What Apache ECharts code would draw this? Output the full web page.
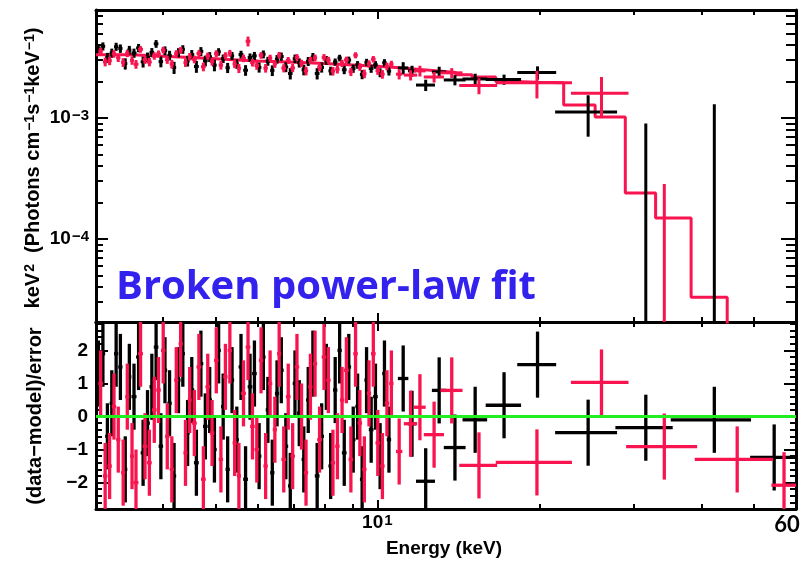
<!DOCTYPE html>
<html><head><meta charset="utf-8">
<script src="https://cdn.jsdelivr.net/npm/echarts@6/dist/echarts.min.js"></script>
<style>html,body{margin:0;padding:0;background:#fff}#c{width:807px;height:563px}</style>
</head><body><div id="c"></div><script>
// ---------------- data (energies in keV, flux in 1e-3 photons cm^-2 s^-1 keV^-1 * keV^2) ----------------
const energyRange = [3, 60];
const fluxRange = [2.06e-5, 7.8e-3];
const residRange = [-2.8, 2.86];
const fluxUnit = 1e-3;

const energyMajorTicks = [10];
const energyMinorTicks = [4, 5, 6, 7, 8, 9, 20, 30, 40, 50];
const energyLabels = [10];
const fluxMajorTicks = [1e-4, 1e-3];
const fluxMinorTicks = [3e-5, 4e-5, 5e-5, 6e-5, 7e-5, 8e-5, 9e-5, 2e-4, 3e-4, 4e-4, 5e-4, 6e-4, 7e-4, 8e-4, 9e-4, 2e-3, 3e-3, 4e-3, 5e-3, 6e-3, 7e-3];
const residMajorTicks = [-2, -1, 0, 1, 2];
const residMinorTicks = [-2.6, -2.4, -2.2, -1.8, -1.6, -1.4, -1.2, -0.8, -0.6, -0.4, -0.2, 0.2, 0.4, 0.6, 0.8, 1.2, 1.4, 1.6, 1.8, 2.2, 2.4, 2.6, 2.8];

// black data group
const blackEnergy = [3.03,3.09,3.15,3.21,3.27,3.33,3.40,3.46,3.53,3.60,3.67,3.74,3.81,3.88,3.96,4.03,4.11,4.19,4.27,4.35,
  4.44,4.52,4.61,4.70,4.79,4.88,4.98,5.07,5.17,5.27,5.37,5.48,5.58,5.69,5.80,5.91,6.03,6.14,6.26,6.38,
  6.51,6.63,6.76,6.89,7.03,7.16,7.30,7.44,7.59,7.73,7.88,8.04,8.19,8.35,8.51,8.68,8.85,9.02,9.19,9.37,
  9.55,9.74,9.92,10.12,10.31,10.51,
  11.17,11.6,12.3,13.03,13.94,15.2,17.2,19.85,24.65,31.55,42.3,54.65];
const blackHalfWidth = [0.03,0.03,0.03,0.03,0.03,0.03,0.03,0.03,0.038,0.038,0.038,0.038,0.038,0.038,0.038,0.038,0.038,0.038,0.038,0.038,
  0.038,0.048,0.048,0.048,0.048,0.048,0.048,0.048,0.048,0.048,0.048,0.048,0.058,0.058,0.058,0.058,0.058,0.058,0.058,0.058,
  0.058,0.068,0.068,0.068,0.068,0.068,0.068,0.068,0.068,0.078,0.078,0.078,0.078,0.078,0.078,0.088,0.088,0.088,0.088,0.088,
  0.088,0.098,0.098,0.098,0.098,0.098,
  0.25,0.2,0.5,0.4,0.65,0.8,1.3,1.65,3.25,3.85,7.2,5.35];
const blackFlux = [3.74,3.91,3.15,3.44,3.88,3.75,2.81,3.64,3.44,3.79,2.91,3.17,3.48,4.10,2.92,3.60,3.29,2.61,3.47,3.69,
  2.96,3.34,2.66,3.55,2.97,3.20,2.73,3.52,3.09,2.60,3.26,2.80,3.34,2.48,3.16,3.26,2.62,3.36,2.95,2.47,
  3.06,3.22,2.64,2.33,3.09,2.86,2.50,2.94,3.19,2.33,2.62,3.00,2.45,2.90,3.13,2.50,3.01,2.56,2.75,2.29,
  2.88,2.56,2.75,2.37,2.86,2.44,
  2.59,2.45,1.87,2.40,2.06,2.10,2.08,2.37,1.12,-0.10,-0.05,-0.80];
const blackFluxErr = [0.3,0.3,0.3,0.3,0.3,0.3,0.3,0.3,0.3,0.3,0.3,0.3,0.3,0.3,0.3,0.3,0.3,0.3,0.3,0.3,
  0.3,0.3,0.3,0.3,0.3,0.3,0.3,0.25,0.25,0.25,0.25,0.25,0.25,0.25,0.25,0.25,0.25,0.25,0.25,0.25,
  0.25,0.25,0.25,0.25,0.25,0.25,0.25,0.25,0.25,0.25,0.25,0.25,0.2,0.2,0.2,0.2,0.2,0.2,0.2,0.2,
  0.2,0.2,0.2,0.2,0.2,0.2,
  0.3,0.25,0.2,0.25,0.2,0.22,0.2,0.3,0.42,1.0,1.35,0.6];
const blackResid = [1.3,1.9,-0.6,0.4,1.9,1.5,-1.6,1.2,0.6,1.8,-1.1,-0.2,0.9,2.1,-0.9,1.4,0.4,-1.8,1.1,1.9,
  -0.5,0.8,-1.4,1.6,-0.3,0.5,-1.0,2.0,0.3,-1.6,1.1,-0.7,1.5,-1.9,0.9,1.3,-1.2,1.8,0.2,-1.7,
  0.7,1.4,-0.9,-2.1,1.0,0.1,-1.3,0.5,1.6,-1.8,-0.6,1.2,-1.5,0.8,2.0,-1.1,1.5,-0.7,0.3,-1.9,
  1.1,-0.4,0.6,-1.2,1.3,-0.7,
  1.15,-0.22,-1.96,0.79,-0.94,-0.1,0.34,1.57,-0.49,-0.34,-0.1,-1.24];

// red data group
const redEnergy = [3.06,3.12,3.18,3.24,3.30,3.37,3.43,3.50,3.56,3.63,3.70,3.77,3.85,3.92,4.00,4.07,4.15,4.23,4.31,4.40,
  4.48,4.57,4.66,4.75,4.84,4.93,5.02,5.12,5.22,5.32,5.43,5.53,5.64,5.75,5.86,5.97,6.08,6.20,6.32,6.45,
  6.57,6.70,6.83,6.96,7.09,7.23,7.37,7.51,7.66,7.81,7.96,8.11,8.27,8.43,8.60,8.76,8.93,9.11,9.28,9.46,
  9.65,9.83,10.02,10.22,10.42,10.62,
  10.98,11.53,12.0,12.75,13.75,15.45,19.8,26.1,34.15,46.65,57.0];
const redHalfWidth = [0.03,0.03,0.03,0.03,0.03,0.03,0.03,0.03,0.038,0.038,0.038,0.038,0.038,0.038,0.038,0.038,0.038,0.038,0.038,0.038,
  0.038,0.048,0.048,0.048,0.048,0.048,0.048,0.048,0.048,0.048,0.048,0.048,0.058,0.058,0.058,0.058,0.058,0.058,0.058,0.058,
  0.058,0.068,0.068,0.068,0.068,0.068,0.068,0.068,0.068,0.078,0.078,0.078,0.078,0.078,0.078,0.088,0.088,0.088,0.088,0.088,
  0.088,0.098,0.098,0.098,0.098,0.098,
  0.15,0.33,0.3,0.55,0.65,1.25,3.2,3.2,5.15,7.75,3.0];
const redFlux = [3.57,2.91,2.97,3.39,3.14,2.88,3.42,2.99,2.78,3.69,3.03,2.90,3.26,3.38,3.64,3.03,2.79,3.40,3.63,2.87,
  3.21,3.05,3.41,2.65,3.25,2.93,3.40,2.73,3.27,3.43,2.80,2.57,3.11,4.30,2.87,2.71,3.29,2.58,3.12,2.80,
  3.30,2.58,2.99,2.59,3.17,2.83,2.45,3.00,3.14,2.63,3.17,3.00,2.44,2.53,2.83,3.02,2.41,3.30,2.64,2.32,
  2.80,3.06,2.46,2.30,2.67,2.78,
  2.30,2.26,2.45,2.18,2.36,1.85,1.95,1.60,-0.015,-0.30,-0.60];
const redFluxErr = [0.24,0.24,0.24,0.24,0.24,0.24,0.24,0.24,0.23,0.23,0.23,0.23,0.23,0.23,0.23,0.23,0.23,0.23,0.23,0.23,
  0.23,0.22,0.22,0.22,0.22,0.22,0.22,0.22,0.22,0.22,0.22,0.22,0.22,0.4,0.21,0.21,0.21,0.21,0.21,0.21,
  0.21,0.2,0.2,0.2,0.2,0.2,0.2,0.2,0.2,0.2,0.2,0.2,0.2,0.2,0.2,0.19,0.19,0.19,0.19,0.19,
  0.19,0.19,0.19,0.19,0.19,0.19,
  0.22,0.22,0.25,0.22,0.22,0.28,0.5,0.58,0.30,0.2,0.3];
const redResid = [1.0,-1.8,-1.5,0.3,-0.7,-1.7,0.6,-1.2,-2.0,1.9,-0.9,-1.4,0.2,0.8,2.0,-0.6,-1.6,1.1,2.2,-1.1,
  0.5,-0.2,1.5,-1.9,0.9,-0.5,1.7,-1.3,1.2,2.0,-0.8,-1.8,0.7,2.1,-0.3,-1.0,1.7,-1.5,1.0,-0.4,
  1.9,-1.3,0.6,-1.2,1.5,0.0,-1.7,0.9,1.6,-0.7,1.8,1.1,-1.4,-0.9,0.5,1.4,-1.3,1.9,-0.2,-1.6,
  0.7,1.9,-0.8,-1.5,0.4,1.0,
  -1.06,-0.22,0.28,-0.55,0.79,-1.48,-1.39,1.03,-0.91,-1.3,-2.08];

// model (step histogram): bin edges and values
const modelEdges = [3, 3.5, 4, 4.5, 5, 5.5, 6, 7, 8, 9, 10, 11, 12, 13, 14, 15, 16.6, 18, 19.8, 22.2, 25.4, 28.9, 32.9, 38.3, 44.7];
const modelValues = [3.33, 3.24, 3.16, 3.08, 3.01, 2.95, 2.88, 2.82, 2.74, 2.67, 2.60, 2.52, 2.44, 2.37, 2.28, 2.18, 2.00, 1.97, 1.95, 1.28, 1.02, 0.24, 0.149, 0.033];

// ---------------- build ----------------
const L = Math.log10;
const BLACK = '#000000', RED = '#f8154f', GREEN = '#22ee22', BLUE = '#3322ee';
const FONT = 'Liberation Sans';

function specData(E, hw, F, Fe) {
  return E.map((e, i) => [e, e - hw[i], e + hw[i], F[i] * fluxUnit, Fe[i] * fluxUnit]);
}
function residData(E, hw, R) {
  return E.map((e, i) => [e, e - hw[i], e + hw[i], R[i], 1]);
}
function crossRenderer(logY, width) {
  return function (params, api) {
    const e = api.value(0), lo = api.value(1), hi = api.value(2), y = api.value(3), err = api.value(4);
    const ty = v => logY ? L(Math.max(v, 1e-9)) : v;
    const style = { stroke: api.visual('color'), lineWidth: width };
    const ch = [];
    if (!logY || y > 0) {
      const a = api.coord([L(lo), ty(y)]), b = api.coord([L(hi), ty(y)]);
      ch.push({ type: 'line', shape: { x1: a[0], y1: a[1], x2: b[0], y2: b[1] }, style });
    }
    if (!logY || y + err > 0) {
      const a = api.coord([L(e), ty(y + err)]), b = api.coord([L(e), ty(y - err)]);
      ch.push({ type: 'line', shape: { x1: a[0], y1: a[1], x2: b[0], y2: b[1] }, style });
    }
    return { type: 'group', children: ch };
  };
}

const modelLine = modelValues.map((v, i) => [L(modelEdges[i]), L(v * fluxUnit)]);
modelLine.push([L(modelEdges[modelEdges.length - 1]), L(fluxRange[0]) - 1]);

const supRich = {
  b: { fontFamily: FONT, fontWeight: 'bold', fontSize: 19, lineHeight: 19, verticalAlign: 'bottom', color: '#000' },
  s: { fontFamily: FONT, fontWeight: 'bold', fontSize: 15, lineHeight: 15, padding: [0, 0, 10, 1], verticalAlign: 'top', color: '#000' }
};

function xAxisDef(grid, pos, ticks, len, line, labels) {
  return {
    type: 'value', gridIndex: grid, position: pos,
    min: L(energyRange[0]), max: L(energyRange[1]),
    axisLine: { show: line, onZero: false, lineStyle: { color: '#000', width: 3 } },
    axisTick: { show: true, inside: true, length: len, customValues: ticks.map(L), lineStyle: { color: '#000', width: 2 } },
    axisLabel: labels ? {
      show: true, customValues: labels.map(L), margin: 4, rich: supRich,
      formatter: v => '{b|10}{s|' + Math.round(v) + '}'
    } : { show: false },
    splitLine: { show: false }
  };
}
function yFluxDef(grid, pos, ticks, len, line, labels) {
  return {
    type: 'value', gridIndex: grid, position: pos,
    min: L(fluxRange[0]), max: L(fluxRange[1]),
    axisLine: { show: line, onZero: false, lineStyle: { color: '#000', width: 3 } },
    axisTick: { show: true, inside: true, length: len, customValues: ticks.map(L), lineStyle: { color: '#000', width: 2 } },
    axisLabel: labels ? {
      show: true, customValues: labels.map(L), margin: 7, rich: supRich,
      formatter: v => { const p = Math.round(v); return '{b|10}{s|' + (p < 0 ? '\u2212' : '') + Math.abs(p) + '}'; }
    } : { show: false },
    splitLine: { show: false }
  };
}
function yResDef(grid, pos, ticks, len, line, labels) {
  return {
    type: 'value', gridIndex: grid, position: pos,
    min: residRange[0], max: residRange[1],
    axisLine: { show: line, onZero: false, lineStyle: { color: '#000', width: 3 } },
    axisTick: { show: true, inside: true, length: len, customValues: ticks, lineStyle: { color: '#000', width: 2 } },
    axisLabel: labels ? {
      show: true, customValues: labels, margin: 8,
      fontFamily: FONT, fontWeight: 'bold', fontSize: 19, color: '#000',
      formatter: v => (v < 0 ? '\u2212' : '') + Math.abs(v)
    } : { show: false },
    splitLine: { show: false }
  };
}

const topRect = { left: 96, right: 11, top: 10, height: 312 };
const botRect = { left: 96, right: 11, top: 322, height: 187 };

const option = {
  animation: false,
  backgroundColor: '#fff',
  grid: [
    Object.assign({}, topRect), Object.assign({}, topRect),
    Object.assign({}, botRect), Object.assign({}, botRect)
  ],
  xAxis: [
    xAxisDef(0, 'bottom', energyMajorTicks, 9, true, null),
    xAxisDef(0, 'top', energyMajorTicks, 9, true, null),
    xAxisDef(1, 'bottom', energyMinorTicks, 5, false, null),
    xAxisDef(1, 'top', energyMinorTicks, 5, false, null),
    xAxisDef(2, 'bottom', energyMajorTicks, 9, true, energyLabels),
    xAxisDef(2, 'top', energyMajorTicks, 9, true, null),
    xAxisDef(3, 'bottom', energyMinorTicks, 5, false, null),
    xAxisDef(3, 'top', energyMinorTicks, 5, false, null)
  ],
  yAxis: [
    yFluxDef(0, 'left', fluxMajorTicks, 12, true, fluxMajorTicks),
    yFluxDef(0, 'right', fluxMajorTicks, 15, true, null),
    yFluxDef(1, 'left', fluxMinorTicks, 7, false, null),
    yFluxDef(1, 'right', fluxMinorTicks, 10, false, null),
    yResDef(2, 'left', residMajorTicks, 12, true, residMajorTicks),
    yResDef(2, 'right', residMajorTicks, 12, true, null),
    yResDef(3, 'left', residMinorTicks, 6, false, null),
    yResDef(3, 'right', residMinorTicks, 6, false, null)
  ],
  series: [
    { type: 'line', name: 'model', xAxisIndex: 0, yAxisIndex: 0, step: 'end', clip: true, z: 1,
      showSymbol: false, symbol: 'none', lineStyle: { color: RED, width: 3 }, data: modelLine },
    { type: 'custom', name: 'black', xAxisIndex: 0, yAxisIndex: 0, clip: true, z: 2,
      itemStyle: { color: BLACK }, encode: { x: 0, y: 3 },
      renderItem: crossRenderer(true, 3), data: specData(blackEnergy, blackHalfWidth, blackFlux, blackFluxErr) },
    { type: 'custom', name: 'red', xAxisIndex: 0, yAxisIndex: 0, clip: true, z: 3,
      itemStyle: { color: RED }, encode: { x: 0, y: 3 },
      renderItem: crossRenderer(true, 3), data: specData(redEnergy, redHalfWidth, redFlux, redFluxErr) },
    { type: 'custom', name: 'black resid', xAxisIndex: 4, yAxisIndex: 4, clip: true, z: 2,
      itemStyle: { color: BLACK }, encode: { x: 0, y: 3 },
      renderItem: crossRenderer(false, 3.3), data: residData(blackEnergy, blackHalfWidth, blackResid) },
    { type: 'custom', name: 'red resid', xAxisIndex: 4, yAxisIndex: 4, clip: true, z: 3,
      itemStyle: { color: RED }, encode: { x: 0, y: 3 },
      renderItem: crossRenderer(false, 3.3), data: residData(redEnergy, redHalfWidth, redResid) },
    { type: 'line', name: 'zero', xAxisIndex: 4, yAxisIndex: 4, data: [], z: 6,
      markLine: { silent: true, symbol: 'none', animation: false, label: { show: false },
        lineStyle: { color: GREEN, width: 3, type: 'solid' }, data: [{ yAxis: 0 }] } }
  ],
  graphic: [
    { type: 'text', x: 33, y: 168, rotation: Math.PI / 2, z: 10,
      style: { text: '{b|keV}{s|2}{b|  (Photons cm}{s|\u22121}{b|s}{s|\u22121}{b|keV}{s|\u22121}{b|)}',
        rich: { b: { fontFamily: FONT, fontWeight: 'bold', fontSize: 20, lineHeight: 20, verticalAlign: 'bottom', fill: '#000' },
                s: { fontFamily: FONT, fontWeight: 'bold', fontSize: 14, lineHeight: 14, padding: [0, 0, 10, 1], verticalAlign: 'top', fill: '#000' } },
        align: 'center', verticalAlign: 'middle' } },
    { type: 'text', x: 35, y: 416, rotation: Math.PI / 2, z: 10,
      style: { text: '(data\u2212model)/error', font: 'bold 20px "Liberation Sans"', fill: '#000', align: 'center', verticalAlign: 'middle' } },
    { type: 'text', x: 444, y: 549, z: 10,
      style: { text: 'Energy (keV)', font: 'bold 19px "Liberation Sans"', fill: '#000', align: 'center', verticalAlign: 'middle' } },
    { type: 'text', x: 787, y: 525, z: 10,
      style: { text: '60', font: 'bold 22px Lato', fill: '#000', align: 'center', verticalAlign: 'middle' } },
    { type: 'text', x: 116, y: 288, z: 10,
      style: { text: 'Broken power-law fit', font: 'bold 40px "Open Sans"', fill: BLUE, align: 'left', verticalAlign: 'middle' } }
  ]
};

const chart = echarts.init(document.getElementById('c'), null, { renderer: 'canvas' });
chart.setOption(option);
</script></body></html>
